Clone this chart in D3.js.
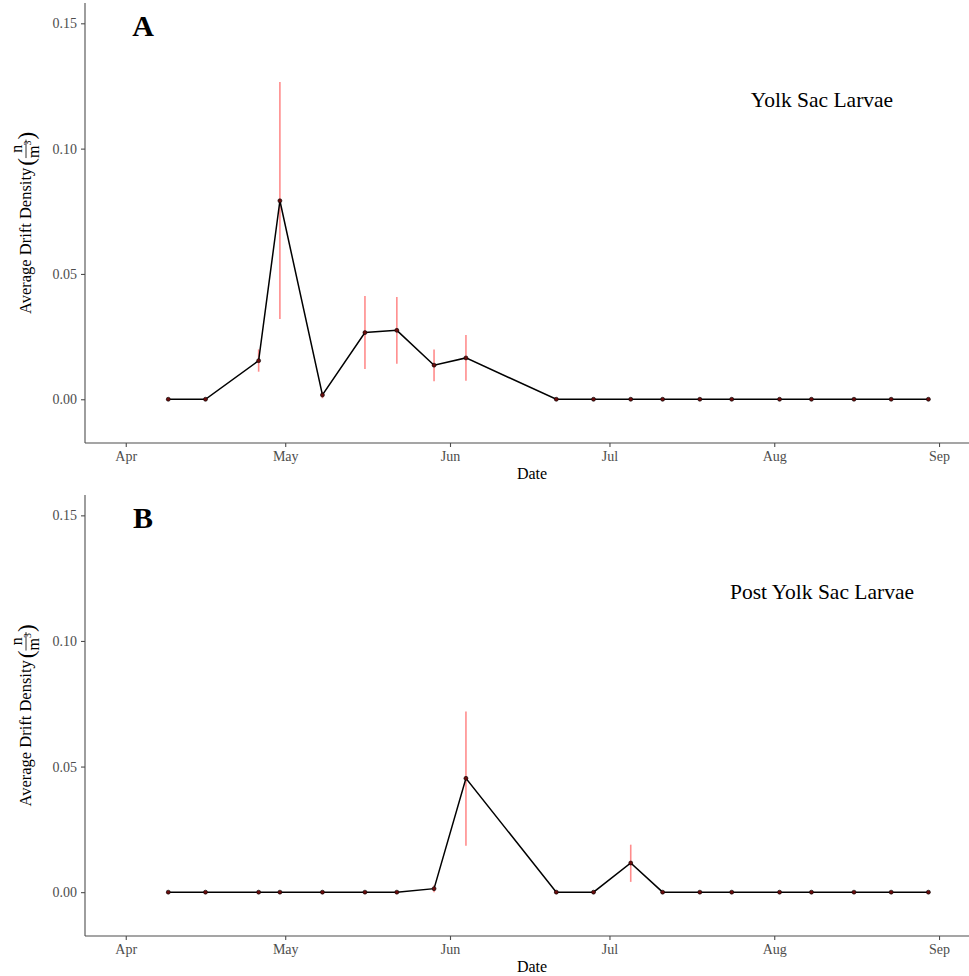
<!DOCTYPE html>
<html>
<head>
<meta charset="utf-8">
<style>
    body { margin: 0; background: #fff; }
    svg { display: block; font-family: "Liberation Serif", "Times New Roman", serif; }
    .tick text { font-size: 14px; font-family: "Liberation Serif", serif; }
</style>
</head>
<body>
<svg width="969" height="976"></svg>
<script src="https://cdn.jsdelivr.net/npm/d3@7/dist/d3.min.js"></script>
<script>
    // sampling dates (same for both panels)
    const dates = ["2019-04-09", "2019-04-16", "2019-04-26", "2019-04-30", "2019-05-08",
        "2019-05-16", "2019-05-22", "2019-05-29", "2019-06-04", "2019-06-21",
        "2019-06-28", "2019-07-05", "2019-07-11", "2019-07-18", "2019-07-24",
        "2019-08-02", "2019-08-08", "2019-08-16", "2019-08-23", "2019-08-30"];

    // Yolk sac larvae
    const yslMean = [0, 0, 0.0154, 0.0792, 0.0017, 0.0266, 0.0275, 0.0136, 0.0165, 0,
        0, 0, 0, 0, 0, 0, 0, 0, 0, 0];
    const yslLow = [0, 0, 0.0110, 0.0320, 0.0004, 0.0121, 0.0142, 0.0072, 0.0074, 0,
        0, 0, 0, 0, 0, 0, 0, 0, 0, 0];
    const yslHigh = [0, 0, 0.0199, 0.1266, 0.0030, 0.0412, 0.0408, 0.0199, 0.0256, 0,
        0, 0, 0, 0, 0, 0, 0, 0, 0, 0];

    // Post yolk sac larvae
    const pyslMean = [0, 0, 0, 0, 0, 0, 0, 0.0014, 0.0453, 0,
        0, 0.0116, 0, 0, 0, 0, 0, 0, 0, 0];
    const pyslLow = [0, 0, 0, 0, 0, 0, 0, 0.0000, 0.0185, 0,
        0, 0.0041, 0, 0, 0, 0, 0, 0, 0, 0];
    const pyslHigh = [0, 0, 0, 0, 0, 0, 0, 0.0028, 0.0719, 0,
        0, 0.0189, 0, 0, 0, 0, 0, 0, 0, 0];

    const yTicks = [0, 0.05, 0.10, 0.15];
    const panelLetters = ["A", "B"];
    const panelTitles = ["Yolk Sac Larvae", "Post Yolk Sac Larvae"];

    const svg = d3.select('svg');
    const parseDate = d3.utcParse('%Y-%m-%d');
    const left = 85, right = 969;

    const x = d3.scaleUtc()
        .domain([Date.UTC(2019, 2, 24, 8), Date.UTC(2019, 8, 6, 15, 20)])
        .range([left, right]);

    function drawPanel (top, bottom, mean, low, high, letter, title) {
        const y = d3.scaleLinear().domain([-0.01745, 0.1581]).range([bottom, top]);
        const g = svg.append('g');

        const rows = dates.map((d, i) => ({
            date: parseDate(d),
            mean: mean[i],
            low: low[i],
            high: high[i]
        }));

        // y axis
        const yAxis = g.append('g')
            .attr('transform', `translate(${left},0)`)
            .call(d3.axisLeft(y).tickValues(yTicks).tickFormat(d3.format('.2f')).tickSize(4).tickPadding(4));
        yAxis.select('.domain').attr('d', `M0,${top}V${bottom}`);

        // x axis
        const xAxis = g.append('g')
            .attr('transform', `translate(0,${bottom})`)
            .call(d3.axisBottom(x).ticks(d3.utcMonth.every(1)).tickFormat(d3.utcFormat('%b')).tickSize(4).tickPadding(4));
        xAxis.select('.domain').attr('d', `M${left},0H${right}`);

        [xAxis, yAxis].forEach(ax => {
            ax.attr('font-size', 14).attr('font-family', '"Liberation Serif", serif');
            ax.select('.domain').attr('stroke', '#4d4d4d').attr('stroke-width', 1.1);
            ax.selectAll('.tick line').attr('stroke', '#4d4d4d').attr('stroke-width', 1.1);
            ax.selectAll('.tick text').attr('fill', '#4d4d4d');
        });

        // error bars
        g.append('g').selectAll('line')
            .data(rows.filter(r => r.high > r.low))
            .join('line')
            .attr('x1', r => x(r.date))
            .attr('x2', r => x(r.date))
            .attr('y1', r => y(r.low))
            .attr('y2', r => y(r.high))
            .attr('stroke', '#ff6f6f')
            .attr('stroke-opacity', 0.8)
            .attr('stroke-width', 1.6);

        // line
        g.append('path')
            .datum(rows)
            .attr('fill', 'none')
            .attr('stroke', '#000')
            .attr('stroke-width', 1.5)
            .attr('d', d3.line().x(r => x(r.date)).y(r => y(r.mean)));

        // points
        g.append('g').selectAll('circle')
            .data(rows)
            .join('circle')
            .attr('cx', r => x(r.date))
            .attr('cy', r => y(r.mean))
            .attr('r', 2)
            .attr('fill', '#6a0d0d')
            .attr('stroke', '#000')
            .attr('stroke-width', 0.6);

        // panel letter
        g.append('text')
            .attr('x', 143)
            .attr('y', top + 33)
            .attr('text-anchor', 'middle')
            .style('font-size', '30px')
            .style('font-weight', 'bold')
            .text(letter);

        // panel title
        g.append('text')
            .attr('x', 822)
            .attr('y', top + 104)
            .attr('text-anchor', 'middle')
            .style('font-size', '21.5px')
            .text(title);

        // x label
        g.append('text')
            .attr('x', 532)
            .attr('y', bottom + 36)
            .attr('text-anchor', 'middle')
            .style('font-size', '16px')
            .text('Date');

        // y label: Average Drift Density (n / m^3)
        const lab = g.append('g');
        const main = lab.append('text').style('font-size', '16.5px').text('Average Drift Density');
        let pos = main.node().getComputedTextLength() + 2;
        const lp = lab.append('text').attr('x', pos).attr('y', 3)
            .style('font-size', '23px').text('(');
        pos += lp.node().getComputedTextLength();
        const nT = lab.append('text').attr('y', -9).style('font-size', '16px').text('n');
        const mT = lab.append('text').attr('y', 8).style('font-size', '16px').text('m');
        const mW = mT.node().getComputedTextLength();
        const supT = lab.append('text').attr('y', 0).style('font-size', '10px').text('3');
        const fracW = mW + supT.node().getComputedTextLength() + 1;
        nT.attr('x', pos + fracW / 2).attr('text-anchor', 'middle');
        mT.attr('x', pos);
        supT.attr('x', pos + mW);
        lab.append('line')
            .attr('x1', pos).attr('x2', pos + fracW)
            .attr('y1', -5).attr('y2', -5)
            .attr('stroke', '#000').attr('stroke-width', 0.8);
        pos += fracW;
        const rp = lab.append('text').attr('x', pos).attr('y', 3)
            .style('font-size', '23px').text(')');
        pos += rp.node().getComputedTextLength();
        const mid = (top + bottom) / 2;
        lab.attr('transform', `translate(31,${mid + pos / 2}) rotate(-90)`);
    }

    drawPanel(3, 443, yslMean, yslLow, yslHigh, panelLetters[0], panelTitles[0]);
    drawPanel(495, 936, pyslMean, pyslLow, pyslHigh, panelLetters[1], panelTitles[1]);
</script>
</body>
</html>
